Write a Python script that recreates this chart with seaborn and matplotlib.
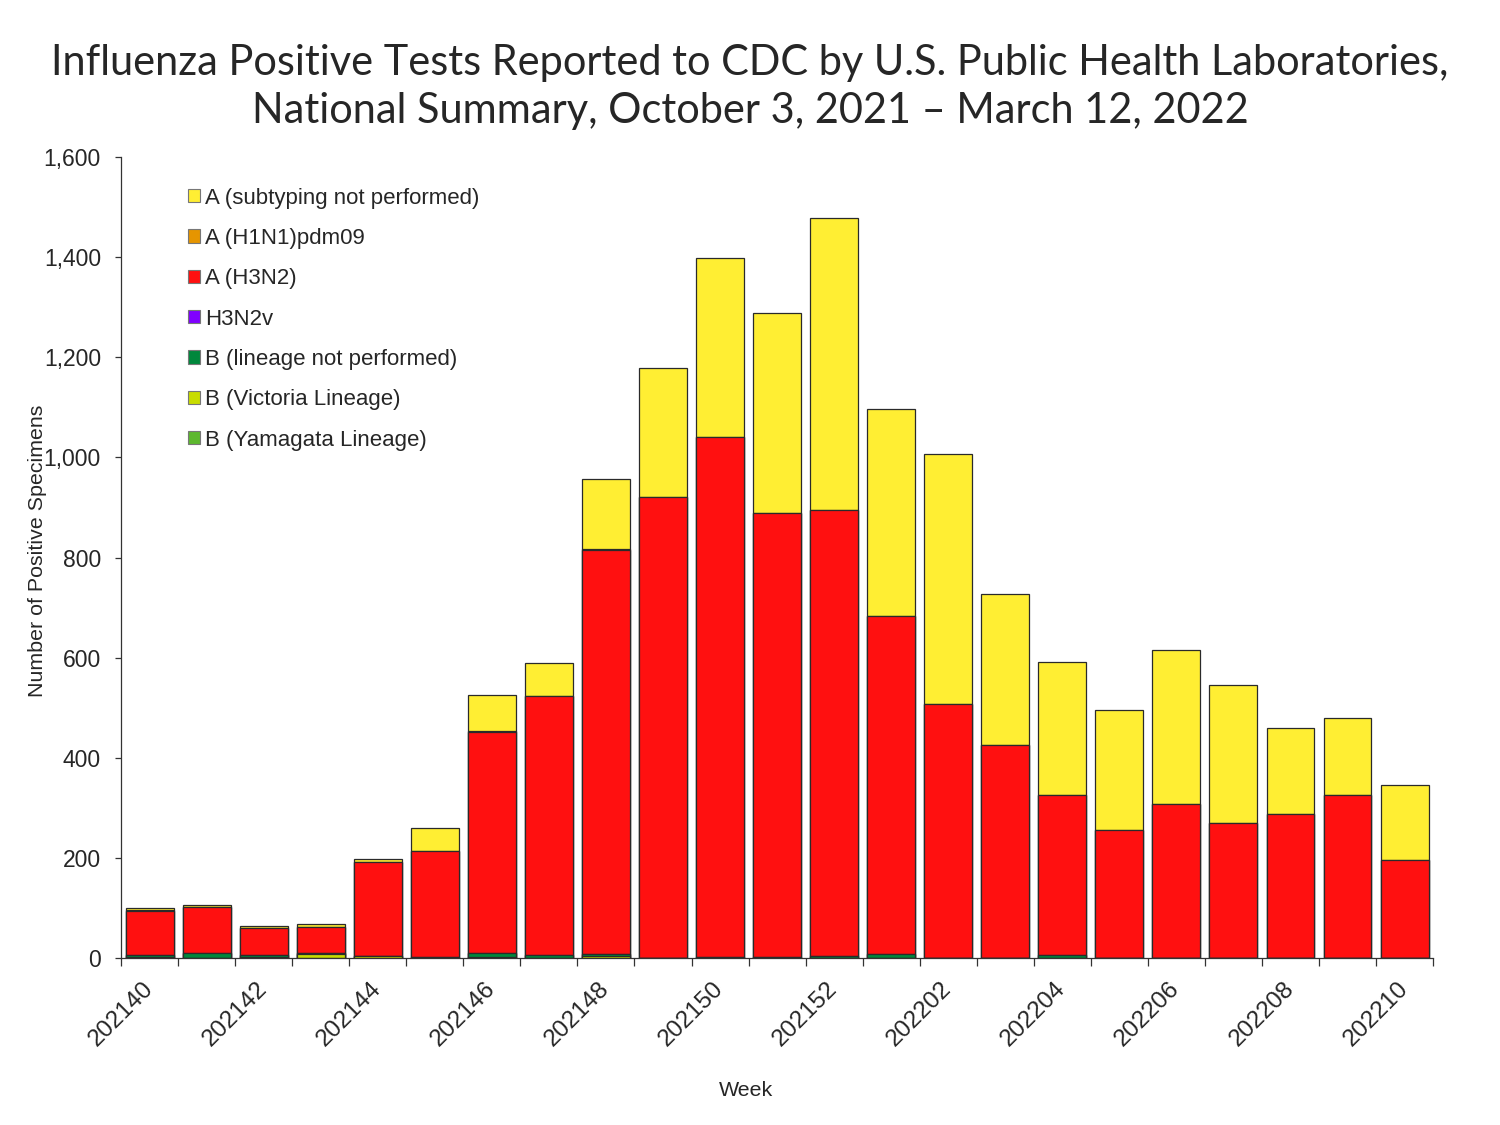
import numpy as np
import matplotlib
matplotlib.use('Agg')
import matplotlib.pyplot as plt
from matplotlib.patches import Patch
import seaborn as sns

weeks = ['202140', '202141', '202142', '202143', '202144', '202145', '202146',
         '202147', '202148', '202149', '202150', '202151', '202152', '202201',
         '202202', '202203', '202204', '202205', '202206', '202207', '202208',
         '202209', '202210']

# values, one per week
a_unsub = [4, 4, 5, 7, 6, 46, 72, 66, 141, 258, 357, 400, 583, 414, 500, 302,
           265, 239, 309, 275, 172, 154, 151]
a_h1n1 = [1, 0, 0, 0, 0, 0, 2, 0, 1, 0, 0, 0, 0, 0, 0, 0, 0, 0, 0, 1, 0, 0, 0]
a_h3n2 = [87, 92, 52, 51, 187, 211, 441, 517, 807, 920, 1039, 887, 891, 675,
          506, 424, 320, 255, 306, 268, 286, 324, 195]
h3n2v = [0] * 23
b_nolineage = [4, 10, 4, 2, 1, 2, 8, 6, 4, 1, 2, 2, 3, 8, 1, 1, 6, 1, 1, 1, 1, 1, 0]
b_victoria = [3, 0, 3, 8, 4, 1, 2, 0, 4, 0, 0, 0, 1, 0, 0, 0, 0, 0, 0, 0, 0, 0, 0]
b_yamagata = [0] * 23

labels = ['A (subtyping not performed)', 'A (H1N1)pdm09', 'A (H3N2)', 'H3N2v',
          'B (lineage not performed)', 'B (Victoria Lineage)', 'B (Yamagata Lineage)']
colors = ['#FFEE33', '#E69500', '#FF1010', '#8000FF', '#00873C', '#C8DC00', '#5DB82E']

sns.set_style('white')
plt.rcParams['font.family'] = ['Liberation Sans', 'DejaVu Sans']

fig = plt.figure(figsize=(15, 11.25), dpi=100)
ax = fig.add_axes([0.0807, 0.14844, 0.8747, 0.712])

# stack bottom -> top: Yamagata, Victoria, B no lineage, H3N2v, H3N2, H1N1, A unsub
layers = [b_yamagata, b_victoria, b_nolineage, h3n2v, a_h3n2, a_h1n1, a_unsub]
layer_colors = colors[::-1]
cum = np.cumsum(np.array(layers), axis=0)

# draw tallest cumulative first so lower layers sit on top of it
for i in range(len(layers) - 1, -1, -1):
    sns.barplot(x=weeks, y=cum[i], color=layer_colors[i], saturation=1,
                width=0.84, edgecolor='#2a2a2a', linewidth=0.9,
                errorbar=None, ax=ax, zorder=10 - i)

ax.set_ylim(0, 1600)
ax.set_xlim(-0.5, 22.5)
ax.set_yticks(np.arange(0, 1601, 200))
ax.set_yticklabels([f'{v:,}' for v in range(0, 1601, 200)], fontsize=16.5)
ax.tick_params(axis='y', direction='out', length=4.5, width=0.9, color='#333333', pad=10, left=True)

ax.set_xticks(np.arange(-0.5, 23, 1))
ax.set_xticklabels([''] * 24)
ax.set_xticks(np.arange(0, 23, 2), minor=True)
ax.set_xticklabels(weeks[::2], minor=True, rotation=45, ha='right', va='center',
                   rotation_mode='anchor', fontsize=17.5)
ax.tick_params(axis='x', which='major', direction='out', length=5.5, width=0.9,
               color='#333333', bottom=True)
ax.tick_params(axis='x', which='minor', length=0, pad=20)

sns.despine(ax=ax)
for s in ['left', 'bottom']:
    ax.spines[s].set_color('#333333')
    ax.spines[s].set_linewidth(0.9)

ax.set_ylabel('Number of Positive Specimens', fontsize=15.4)
ax.yaxis.set_label_coords(-0.0564, 0.508)
ax.set_xlabel('Week', fontsize=15.4)
ax.xaxis.set_label_coords(0.476, -0.1536)

handles = [Patch(facecolor=c, edgecolor='#777777', linewidth=0.8) for c in colors]
ax.legend(handles, labels, frameon=False, loc='upper left',
          bbox_to_anchor=(0.044, 0.973), fontsize=16, handlelength=0.55,
          handleheight=0.55, handletextpad=0.25, labelspacing=0.87,
          borderaxespad=0)

fig.text(0.5, 1 - 44 / 1125,
         'Influenza Positive Tests Reported to CDC by U.S. Public Health Laboratories,\n'
         'National Summary, October 3, 2021 \u2013 March 12, 2022',
         ha='center', va='top', fontsize=29.9, family=['Lato', 'DejaVu Sans'],
         linespacing=1.31)

fig.savefig('out.png', dpi=100, facecolor='white')
